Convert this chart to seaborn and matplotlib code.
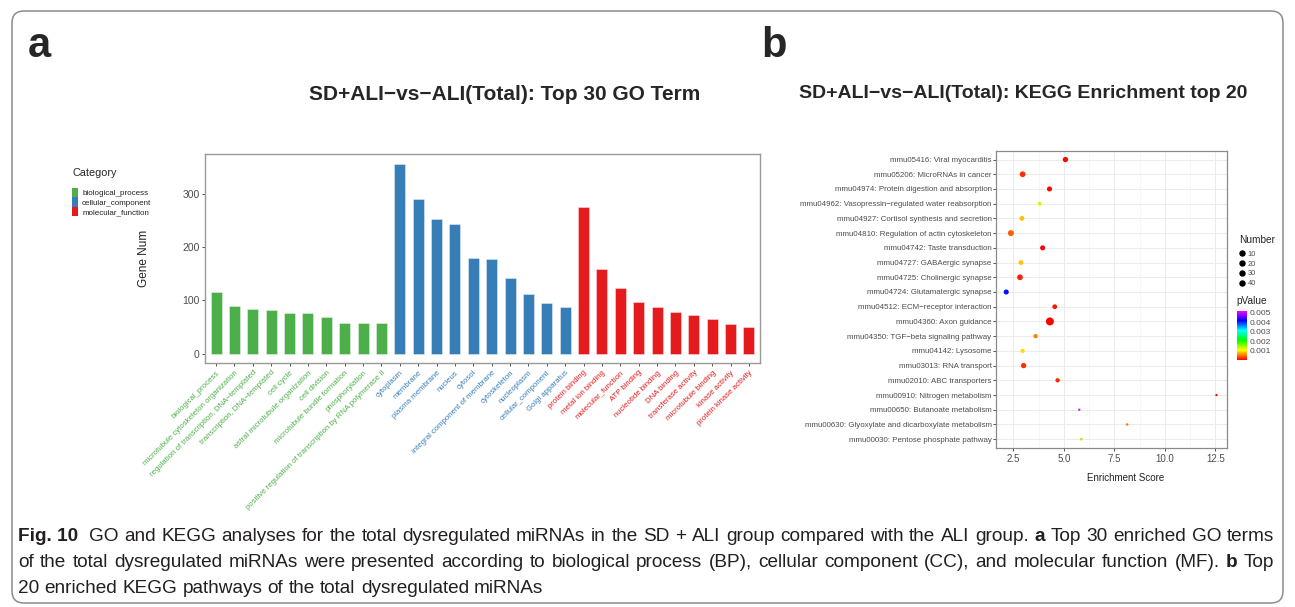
import numpy as np
import pandas as pd
import matplotlib
matplotlib.use("Agg")
import matplotlib.pyplot as plt
import seaborn as sns
from matplotlib.colors import LinearSegmentedColormap, Normalize
from matplotlib.patches import Patch, FancyBboxPatch
from matplotlib.lines import Line2D
from matplotlib.transforms import IdentityTransform
from matplotlib.cm import ScalarMappable

# ---------------- GO enrichment (panel a) ----------------
go_categories = ["biological_process", "cellular_component", "molecular_function"]
category_colors = ["#4DAF4A", "#377EB8", "#E41A1C"]

bp_terms = [
    "biological_process",
    "microtubule cytoskeleton organization",
    "regulation of transcription, DNA\u2212templated",
    "transcription, DNA\u2212templated",
    "cell cycle",
    "astral microtubule organization",
    "cell division",
    "microtubule bundle formation",
    "phosphorylation",
    "positive regulation of transcription by RNA polymerase II",
]
bp_counts = [116, 90, 84, 81, 77, 76, 69, 58, 57, 57]

cc_terms = [
    "cytoplasm", "membrane", "plasma membrane", "nucleus", "cytosol",
    "integral component of membrane", "cytoskeleton", "nucleoplasm",
    "cellular_component", "Golgi apparatus",
]
cc_counts = [357, 291, 253, 244, 180, 178, 142, 112, 94, 88]

mf_terms = [
    "protein binding", "metal ion binding", "molecular_function", "ATP binding",
    "nucleotide binding", "DNA binding", "transferase activity",
    "microtubule binding", "kinase activity", "protein kinase activity",
]
mf_counts = [276, 159, 124, 96, 87, 78, 73, 64, 56, 50]

# ---------------- KEGG enrichment (panel b) ----------------
kegg_pathways = [
    "mmu05416: Viral myocarditis",
    "mmu05206: MicroRNAs in cancer",
    "mmu04974: Protein digestion and absorption",
    "mmu04962: Vasopressin\u2212regulated water reabsorption",
    "mmu04927: Cortisol synthesis and secretion",
    "mmu04810: Regulation of actin cytoskeleton",
    "mmu04742: Taste transduction",
    "mmu04727: GABAergic synapse",
    "mmu04725: Cholinergic synapse",
    "mmu04724: Glutamatergic synapse",
    "mmu04512: ECM\u2212receptor interaction",
    "mmu04360: Axon guidance",
    "mmu04350: TGF\u2212beta signaling pathway",
    "mmu04142: Lysosome",
    "mmu03013: RNA transport",
    "mmu02010: ABC transporters",
    "mmu00910: Nitrogen metabolism",
    "mmu00650: Butanoate metabolism",
    "mmu00630: Glyoxylate and dicarboxylate metabolism",
    "mmu00030: Pentose phosphate pathway",
]
kegg_enrichment = [5.08, 2.96, 4.29, 3.80, 2.93, 2.38, 3.95, 2.88, 2.83, 2.15,
                   4.55, 4.31, 3.60, 2.96, 3.01, 4.69, 12.55, 5.76, 8.13, 5.86]
kegg_number = [18, 21, 16, 8, 14, 23, 16, 14, 21, 16,
               14, 42, 11, 11, 18, 11, 2, 2, 3, 4]
kegg_pvalue = [0.00003, 0.0002, 0.00004, 0.00127, 0.00078, 0.0004, 0.00002, 0.0008,
               0.00013, 0.0041, 0.0001, 0.00001, 0.00052, 0.0009, 0.0002, 0.00018,
               0.00005, 0.0051, 0.00052, 0.00142]
number_breaks = [10, 20, 30, 40]
pvalue_breaks = [0.001, 0.002, 0.003, 0.004, 0.005]

# ---------------- style ----------------
sns.set_style("white")
plt.rcParams["font.family"] = ["Liberation Sans", "DejaVu Sans"]
TXT = "#4D4D4D"

W, H = 1295, 607
fig = plt.figure(figsize=(W / 100, H / 100), dpi=100)


def fx(px):
    return px / W


def fy(py):
    return 1 - py / H


# outer rounded frame
frame = FancyBboxPatch((12, 4), 1271, 592, boxstyle="round,pad=0,rounding_size=12",
                       transform=IdentityTransform(), facecolor="none",
                       edgecolor="#8c8c8c", linewidth=1.1)
fig.add_artist(frame)

# panel letters
fig.text(fx(28), fy(57), "a", fontsize=30, fontweight="bold", va="baseline", ha="left")
fig.text(fx(761), fy(57), "b", fontsize=30, fontweight="bold", va="baseline", ha="left")

# ================= panel a : GO bar chart =================
go_df = pd.DataFrame({
    "term": bp_terms + cc_terms + mf_terms,
    "count": bp_counts + cc_counts + mf_counts,
    "category": [go_categories[0]] * len(bp_terms)
    + [go_categories[1]] * len(cc_terms)
    + [go_categories[2]] * len(mf_terms),
})
term_order = list(go_df["term"])
cat_color = dict(zip(go_categories, category_colors))

ax1 = fig.add_axes([fx(205), fy(363), (760 - 205) / W, (363 - 154) / H])
sns.barplot(data=go_df, x="term", y="count", hue="category", order=term_order,
            hue_order=go_categories, palette=cat_color, dodge=False, width=0.6,
            saturation=1, legend=False, edgecolor=(1, 1, 1, 0.45), linewidth=0.6, ax=ax1)
ymax = max(go_df["count"])
ax1.set_ylim(-0.05 * ymax, 1.05 * ymax)
ax1.set_xlim(-0.6, len(term_order) - 0.4)
ax1.set_yticks([0, 100, 200, 300])
ax1.set_xticks(range(len(term_order)))
ax1.set_xticklabels(term_order, rotation=45, ha="right", va="top",
                    rotation_mode="anchor", fontsize=5.6)
for lab, cat in zip(ax1.get_xticklabels(), go_df["category"]):
    lab.set_color(cat_color[cat])
ax1.tick_params(axis="y", labelsize=7.5, labelcolor=TXT, length=2.5, width=0.6,
                color="#333333", pad=1.5, left=True)
ax1.tick_params(axis="x", length=2.5, width=0.6, color="#333333", pad=2, bottom=True)
ax1.set_xlabel("")
ax1.set_ylabel("Gene Num", fontsize=8.5, color="#222222")
ax1.yaxis.set_label_coords(-0.099, 0.5)
for sp in ax1.spines.values():
    sp.set_color("#9a9a9a")
    sp.set_linewidth(1.0)

fig.text(fx(505), fy(95), "SD+ALI\u2212vs\u2212ALI(Total): Top 30 GO Term",
         fontsize=15, fontweight="bold", ha="center", va="center")

cat_handles = [Patch(facecolor=c, edgecolor="none") for c in category_colors]
leg1 = fig.legend(cat_handles, go_categories, title="Category", loc="upper left",
                  bbox_to_anchor=(fx(68), fy(164)), frameon=False, fontsize=5.8,
                  title_fontsize=7.8, handlelength=0.75, handleheight=1.45,
                  handletextpad=0.5, labelspacing=0.0, borderpad=0, alignment="left")
leg1._legend_box.sep = 7
for t in leg1.get_texts():
    t.set_color("#222222")

# ================= panel b : KEGG bubble chart =================
kegg_df = pd.DataFrame({
    "pathway": kegg_pathways,
    "enrichment": kegg_enrichment,
    "number": kegg_number,
    "pvalue": kegg_pvalue,
})
p_cmap = LinearSegmentedColormap.from_list(
    "p_rainbow", ["#FF0000", "#FFFF00", "#00FF00", "#00FFFF", "#0000FF", "#FF00FF"])
p_norm = Normalize(vmin=0.0, vmax=0.0052)

ax2 = fig.add_axes([fx(995.7), fy(448), (1227 - 995.7) / W, (448 - 150.7) / H])
ax2.set_axisbelow(True)
sns.scatterplot(data=kegg_df, x="enrichment", y="pathway", hue="pvalue", size="number",
                palette=p_cmap, hue_norm=p_norm, sizes=(2.7, 33), size_norm=(2, 42),
                linewidth=0, legend=False, ax=ax2, zorder=3)
n_path = len(kegg_pathways)
ax2.set_ylim(n_path - 1 + 0.6, -0.6)
xr = max(kegg_enrichment) - min(kegg_enrichment)
ax2.set_xlim(min(kegg_enrichment) - 0.05 * xr, max(kegg_enrichment) + 0.05 * xr)
ax2.set_xticks([2.5, 5.0, 7.5, 10.0, 12.5])
ax2.set_xticks([3.75, 6.25, 8.75, 11.25], minor=True)
ax2.grid(True, which="major", color="#EBEBEB", linewidth=0.7)
ax2.grid(True, which="minor", axis="x", color="#F2F2F2", linewidth=0.4)
ax2.tick_params(axis="y", labelsize=5.7, labelcolor=TXT, length=2, width=0.6,
                color="#333333", pad=1, left=True)
ax2.tick_params(axis="x", which="major", labelsize=7, labelcolor=TXT, length=2,
                width=0.6, color="#333333", pad=2, bottom=True)
ax2.tick_params(axis="x", which="minor", length=0)
ax2.set_ylabel("")
ax2.set_xlabel("Enrichment Score", fontsize=7, color="#222222")
ax2.xaxis.set_label_coords(0.563, -0.084)
for sp in ax2.spines.values():
    sp.set_color("#8a8a8a")
    sp.set_linewidth(0.9)

fig.text(fx(1023), fy(93), "SD+ALI\u2212vs\u2212ALI(Total): KEGG Enrichment top 20",
         fontsize=14, fontweight="bold", ha="center", va="center")

# size legend
size_handles = [Line2D([], [], marker="o", linestyle="", color="black", markersize=3.6)
                for _ in number_breaks]
leg2 = fig.legend(size_handles, [str(b) for b in number_breaks], title="Number",
                  loc="upper left", bbox_to_anchor=(fx(1235), fy(231)), frameon=False,
                  fontsize=5.4, title_fontsize=7.3, handlelength=0.9, handletextpad=0.3,
                  labelspacing=0.36, borderpad=0, alignment="left")
leg2._legend_box.sep = 4
for t in leg2.get_texts():
    t.set_color(TXT)

# colour bar for p values
fig.text(fx(1236), fy(301), "pValue", fontsize=7.3, ha="left", va="center")
cax = fig.add_axes([fx(1236.7), fy(360), 10 / W, 49.3 / H])
cb = fig.colorbar(ScalarMappable(norm=p_norm, cmap=p_cmap), cax=cax, ticks=pvalue_breaks)
cb.outline.set_visible(False)
cax.set_yticklabels([f"{v:.3f}" for v in pvalue_breaks])
cax.tick_params(length=2, width=0.6, color="white", direction="in", labelsize=6,
                labelcolor=TXT, pad=2)

# ================= caption =================
CAP_COLOR = "#231F20"
renderer = fig.canvas.get_renderer()


def word_width(word, fs, weight):
    t1 = fig.text(0, 0, "|" + word + "|", fontsize=fs, fontweight=weight)
    t2 = fig.text(0, 0, "||", fontsize=fs, fontweight=weight)
    w = t1.get_window_extent(renderer).width - t2.get_window_extent(renderer).width
    t1.remove()
    t2.remove()
    return w


caption_lines = [
    [("Fig. 10", "bold"), ("GO and KEGG analyses for the total dysregulated miRNAs in the SD + ALI group compared with the ALI group.", "normal"), ("a", "bold"), ("Top 30 enriched GO terms", "normal")],
    [("of the total dysregulated miRNAs were presented according to biological process (BP), cellular component (CC), and molecular function (MF).", "normal"), ("b", "bold"), ("Top", "normal")],
    [("20 enriched KEGG pathways of the total dysregulated miRNAs", "normal")],
]
caption_baselines = [541, 567, 593]
justify = [True, True, False]
x_left, x_right = 18, 1274


def tokens(line):
    # bold runs stay whole; plain runs are split into words
    out = []
    for i, (txt, wt) in enumerate(line):
        if wt == "bold":
            out.append((txt, wt, i == 0))
        else:
            out.extend((wd, wt, False) for wd in txt.split(" ") if wd)
    return out


fs0 = 12.0
space0 = word_width(" ", fs0, "normal")
tok1 = tokens(caption_lines[0])
natural = sum(word_width(w, fs0, wt) for w, wt, _ in tok1) + space0 * len(tok1)
cap_fs = fs0 * (x_right - x_left) / natural

for line, base, just in zip(caption_lines, caption_baselines, justify):
    toks = tokens(line)
    widths = [word_width(w, cap_fs, wt) for w, wt, _ in toks]
    sp = word_width(" ", cap_fs, "normal")
    extra = [2 * sp if k == 0 and toks[0][2] else sp for k in range(len(toks) - 1)]
    if just:
        free = (x_right - x_left) - sum(widths) - sum(extra)
        extra = [e + free / len(extra) for e in extra]
    x = x_left
    for k, ((w, wt, _), wd) in enumerate(zip(toks, widths)):
        fig.text(fx(x), fy(base), w, fontsize=cap_fs, fontweight=wt, color=CAP_COLOR,
                 ha="left", va="baseline")
        x += wd
        if k < len(extra):
            x += extra[k]

fig.savefig("out.png", dpi=100)
